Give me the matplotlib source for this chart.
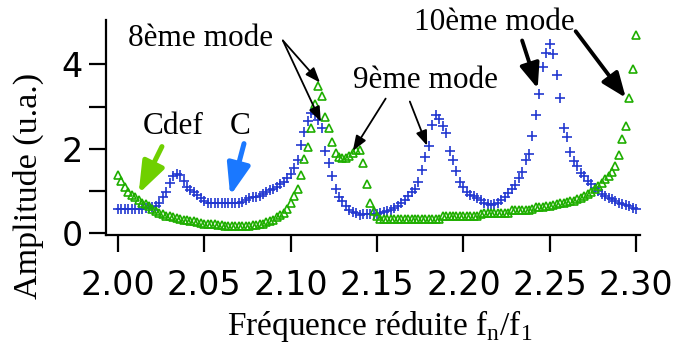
import matplotlib
matplotlib.use('Agg')
import matplotlib.pyplot as plt

# 数据: 频率(约化) 以及两条曲线的幅值 C (蓝色 +) 与 Cdef (绿色 三角)
freq = [2.000, 2.002, 2.004, 2.006, 2.008, 2.010, 2.012, 2.014, 2.016, 2.018,
        2.020, 2.022, 2.024, 2.026, 2.028, 2.030, 2.032, 2.034, 2.036, 2.038,
        2.040, 2.042, 2.044, 2.046, 2.048, 2.050, 2.052, 2.054, 2.056, 2.058,
        2.060, 2.062, 2.064, 2.066, 2.068, 2.070, 2.072, 2.074, 2.076, 2.078,
        2.080, 2.082, 2.084, 2.086, 2.088, 2.090, 2.092, 2.094, 2.096, 2.098,
        2.100, 2.102, 2.104, 2.106, 2.108, 2.110, 2.112, 2.114, 2.116, 2.118,
        2.120, 2.122, 2.124, 2.126, 2.128, 2.130, 2.132, 2.134, 2.136, 2.138,
        2.140, 2.142, 2.144, 2.146, 2.148, 2.150, 2.152, 2.154, 2.156, 2.158,
        2.160, 2.162, 2.164, 2.166, 2.168, 2.170, 2.172, 2.174, 2.176, 2.178,
        2.180, 2.182, 2.184, 2.186, 2.188, 2.190, 2.192, 2.194, 2.196, 2.198,
        2.200, 2.202, 2.204, 2.206, 2.208, 2.210, 2.212, 2.214, 2.216, 2.218,
        2.220, 2.222, 2.224, 2.226, 2.228, 2.230, 2.232, 2.234, 2.236, 2.238,
        2.240, 2.242, 2.244, 2.246, 2.248, 2.250, 2.252, 2.254, 2.256, 2.258,
        2.260, 2.262, 2.264, 2.266, 2.268, 2.270, 2.272, 2.274, 2.276, 2.278,
        2.280, 2.282, 2.284, 2.286, 2.288, 2.290, 2.292, 2.294, 2.296, 2.298,
        2.300]

amp_c = [0.57, 0.57, 0.57, 0.57, 0.57, 0.57, 0.57, 0.57, 0.58, 0.60,
         0.61, 0.63, 0.70, 0.85, 0.97, 1.18, 1.36, 1.40, 1.38, 1.23,
         1.10, 1.03, 0.98, 0.90, 0.82, 0.76, 0.72, 0.70, 0.70, 0.70,
         0.70, 0.70, 0.70, 0.70, 0.70, 0.71, 0.74, 0.78, 0.82, 0.84,
         0.86, 0.88, 0.92, 0.96, 1.01, 1.05, 1.10, 1.15, 1.21, 1.30,
         1.40, 1.55, 1.73, 2.08, 2.40, 2.66, 2.84, 2.82, 2.69, 2.50,
         1.95, 1.65, 1.35, 1.04, 0.86, 0.75, 0.63, 0.55, 0.49, 0.46,
         0.43, 0.44, 0.45, 0.45, 0.45, 0.45, 0.46, 0.49, 0.51, 0.55,
         0.58, 0.63, 0.70, 0.78, 0.87, 0.96, 1.05, 1.22, 1.50, 1.80,
         2.07, 2.56, 2.80, 2.70, 2.53, 2.37, 1.95, 1.72, 1.47, 1.22,
         1.08, 0.96, 0.91, 0.88, 0.82, 0.77, 0.72, 0.68, 0.67, 0.68,
         0.71, 0.77, 0.85, 0.95, 1.04, 1.14, 1.31, 1.44, 1.72, 1.88,
         2.30, 2.80, 3.30, 3.95, 4.28, 4.48, 4.25, 3.75, 3.20, 2.50,
         2.28, 1.93, 1.70, 1.60, 1.43, 1.35, 1.23, 1.15, 1.07, 1.00,
         0.92, 0.87, 0.83, 0.80, 0.75, 0.72, 0.69, 0.67, 0.63, 0.60,
         0.57]

amp_cdef = [1.37, 1.23, 1.08, 0.96, 0.89, 0.84, 0.77, 0.70, 0.68, 0.63,
            0.57, 0.51, 0.48, 0.45, 0.41, 0.39, 0.37, 0.35, 0.32, 0.31,
            0.30, 0.29, 0.27, 0.26, 0.24, 0.22, 0.21, 0.21, 0.20, 0.19,
            0.18, 0.17, 0.17, 0.17, 0.17, 0.17, 0.17, 0.17, 0.17, 0.18,
            0.19, 0.20, 0.22, 0.26, 0.28, 0.31, 0.38, 0.42, 0.48, 0.56,
            0.72, 0.88, 1.05, 1.38, 1.75, 2.05, 2.50, 3.05, 3.48, 3.25,
            2.75, 2.50, 2.17, 1.90, 1.80, 1.79, 1.79, 1.83, 1.89, 1.96,
            1.98, 1.65, 1.15, 0.72, 0.52, 0.41, 0.34, 0.33, 0.33, 0.33,
            0.33, 0.33, 0.33, 0.33, 0.33, 0.33, 0.33, 0.33, 0.33, 0.33,
            0.33, 0.33, 0.33, 0.33, 0.40, 0.40, 0.40, 0.40, 0.40, 0.40,
            0.40, 0.40, 0.40, 0.40, 0.40, 0.44, 0.48, 0.48, 0.48, 0.48,
            0.48, 0.48, 0.48, 0.48, 0.55, 0.55, 0.55, 0.55, 0.55, 0.55,
            0.57, 0.62, 0.62, 0.62, 0.63, 0.64, 0.65, 0.68, 0.70, 0.72,
            0.74, 0.75, 0.76, 0.80, 0.83, 0.87, 0.92, 0.98, 1.04, 1.11,
            1.19, 1.28, 1.36, 1.44, 1.59, 1.85, 2.22, 2.55, 3.20, 3.90,
            4.71]

x_ticks = [2.00, 2.05, 2.10, 2.15, 2.20, 2.25, 2.30]
x_tick_labels = ['2.00', '2.05', '2.10', '2.15', '2.20', '2.25', '2.30']
y_ticks = [0, 2, 4]

blue = '#2238d0'
green = '#1fae00'

plt.rcParams['mathtext.fontset'] = 'custom'
plt.rcParams['mathtext.rm'] = 'Liberation Serif'

fig = plt.figure(figsize=(6.87, 3.56), dpi=100)
ax = fig.add_axes([0.154, 0.340, 0.777, 0.603])

# 1. 两条曲线
ax.plot(freq, amp_c, ls='none', marker='+', ms=6.5, mew=1.2, color=blue)
ax.plot(freq, amp_cdef, ls='none', marker='^', ms=5.3, mew=1.2,
        mfc='none', mec=green)

# 2. 坐标轴
ax.set_xlim(1.993, 2.302)
ax.set_ylim(-0.05, 5.05)
ax.set_xticks(x_ticks)
ax.set_xticklabels(x_tick_labels)
ax.set_yticks(y_ticks)
ax.set_yticks([1, 3], minor=True)
for side in ['top', 'right']:
    ax.spines[side].set_visible(False)
for side in ['left', 'bottom']:
    ax.spines[side].set_linewidth(1.6)
ax.tick_params(which='both', direction='out', length=12.5, width=1.6,
               labelsize=24)
ax.tick_params(axis='x', pad=12)
ax.tick_params(axis='y', pad=4)
for lab in ax.get_xticklabels() + ax.get_yticklabels():
    lab.set_family('DejaVu Sans')

# 轴标题 (位置按原图放置)
fig.text(28 / 687, 1 - 186 / 356, 'Amplitude (u.a.)', family='Liberation Serif',
         fontsize=24.5, rotation=90, ha='center', va='center')
fig.text(380 / 687, 1 - 326 / 356,
         r'Fréquence réduite f$_\mathregular{n}$/f$_\mathregular{1}$',
         family='Liberation Serif', fontsize=24, ha='center', va='center')

# 3. 标注文字
txt = dict(family='Liberation Serif', fontsize=22.5, ha='center', va='center')
ax.text(2.048, 4.62, '8ème mode', **txt)
ax.text(2.178, 3.62, '9ème mode', **txt)
ax.text(2.218, 5.00, '10ème mode', **txt)
ax.text(2.032, 2.52, 'Cdef', **txt)
ax.text(2.071, 2.52, 'C', **txt)


# 4. 箭头
def arrow(tail, head, color='black', lw=1.3, hl=0.45, hw=0.17):
    ax.annotate('', xy=head, xytext=tail,
                arrowprops=dict(arrowstyle=f'-|>,head_length={hl},head_width={hw}',
                                color=color, lw=lw, mutation_scale=20,
                                shrinkA=0, shrinkB=0))


arrow((2.0955, 4.57), (2.117, 3.57))
arrow((2.0955, 4.57), (2.1175, 2.64))
arrow((2.155, 3.19), (2.136, 1.95))
arrow((2.169, 3.12), (2.179, 2.07))
arrow((2.234, 4.57), (2.243, 3.43), lw=2.8, hl=0.75, hw=0.3)
arrow((2.265, 4.79), (2.294, 3.21), lw=2.8, hl=0.75, hw=0.3)
arrow((2.0255, 2.05), (2.012, 0.93), color='#6fd000', lw=3.6, hl=0.95, hw=0.35)
arrow((2.073, 2.12), (2.065, 0.88), color='#1a78ff', lw=3.6, hl=0.95, hw=0.35)

plt.savefig('out.png', dpi=100)
